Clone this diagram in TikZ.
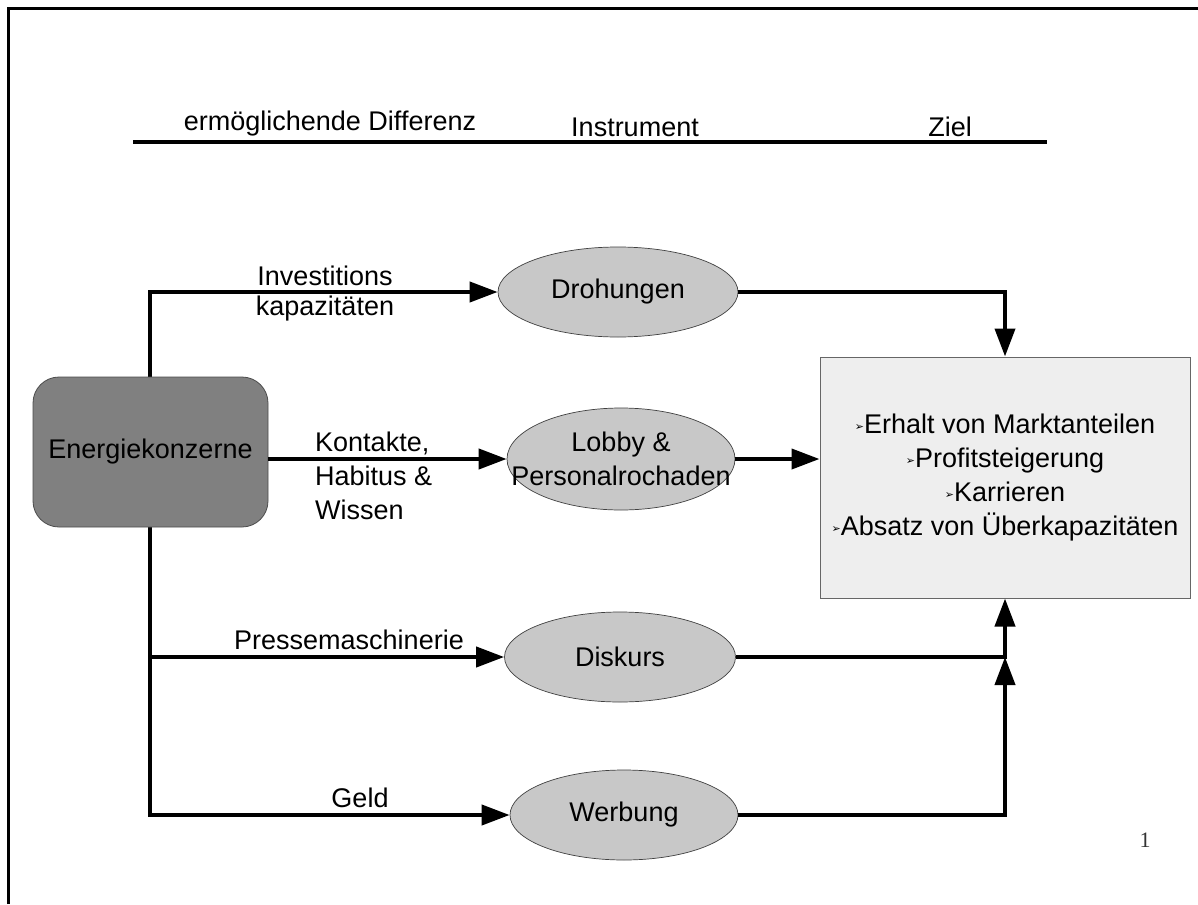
\documentclass[tikz,border=0pt]{standalone}
\usepackage{fontspec}
\setmainfont{Liberation Sans}
\newfontfamily\pagenumfont{Liberation Serif}
\newfontfamily\dejavu{DejaVu Sans}
\usetikzlibrary{arrows.meta,shapes.geometric}
\newcommand{\mymark}{\raisebox{3pt}{\dejavu\fontsize{11}{11}\selectfont ➢}}
\newcommand{\zw}[1]{\makebox[0pt]{#1}}
\begin{document}
\begin{tikzpicture}[x=1pt,y=-1pt,
  txt/.style={font=\fontsize{27}{34}\selectfont, inner sep=0pt},
  thick line/.style={line width=4pt},
  conn/.style={line width=4pt, -{Triangle[length=28pt,width=20pt]}},
  oval/.style={ellipse, draw=black!75, line width=0.7pt, fill={rgb,255:red,200;green,200;blue,200},
    inner sep=0pt, align=center, font=\fontsize{27}{34}\selectfont},
  srcbox/.style={draw=black!70, line width=0.8pt, fill={rgb,255:red,128;green,128;blue,128},
    rounded corners=26pt, minimum width=235pt, minimum height=150pt, inner sep=0pt,
    font=\fontsize{27}{34}\selectfont},
  goalbox/.style={draw=black!60, line width=1pt, fill={rgb,255:red,238;green,238;blue,238},
    minimum width=370pt, minimum height=241pt, inner sep=0pt, align=center,
    font=\fontsize{27}{34}\selectfont}
]
\useasboundingbox (0,0) rectangle (1198,904);
\fill[white] (0,0) rectangle (1198,904);
% page frame
\draw[line width=3pt] (8.5,904) -- (8.5,8.5) -- (1198,8.5);

% header
\node[txt] (h1) at (330,124) {ermöglichende Differenz};
\node[txt] (h2) at (635,127) {Instrument};
\node[txt] (h3) at (950,127) {Ziel};
\coordinate (hl) at (133,142);
\coordinate (hr) at (1047,142);
\draw[thick line] (hl) -- (hr);

% nodes
\node[oval, minimum width=240pt, minimum height=90pt] (D) at (618,292) {\zw{Drohungen}};
\node[oval, minimum width=228pt, minimum height=102pt] (L) at (621,459) {\zw{Lobby \&}\\\zw{Personalrochaden}};
\node[oval, minimum width=231pt, minimum height=90pt] (K) at (620,657) {\zw{Diskurs}};
\node[oval, minimum width=228pt, minimum height=90pt] (W) at (624,815) {\zw{Werbung}};
\node[goalbox] (G) at (1005,477.5) {\mymark Erhalt von Marktanteilen\\ \mymark Profitsteigerung\\ \mymark Karrieren\\ \mymark Absatz von Überkapazitäten};

% connectors from source
\draw[conn] (150,452) |- (D.west);
\draw[conn] (150,452) |- (K.west);
\draw[conn] (150,452) |- (W.west);
\node[srcbox] (E) at (150.5,452) {Energiekonzerne};
\draw[conn] (L.west -| E.east) -- (L.west);

% connectors to goal
\draw[conn] (D.east) -| (G.north);
\draw[conn] (L.east) -- (L.east -| G.west);
\draw[conn] (K.east) -| (G.south);
\draw[conn] (W.east) -| (K.east -| G.south);

% labels
\node[txt] (l1a) at (325,276) {Investitions};
\node[txt] (l1b) at (325,309) {kapazitäten};
\node[txt, align=left, anchor=west] (l2) at (315,476) {Kontakte,\\Habitus \&\\Wissen};
\node[txt] (l3) at (349,640) {Pressemaschinerie};
\node[txt] (l4) at (360,798) {Geld};

\node[font=\pagenumfont\fontsize{22}{24}\selectfont, text=black!80, inner sep=0pt] (pn) at (1145,840) {1};
\end{tikzpicture}
\end{document}
